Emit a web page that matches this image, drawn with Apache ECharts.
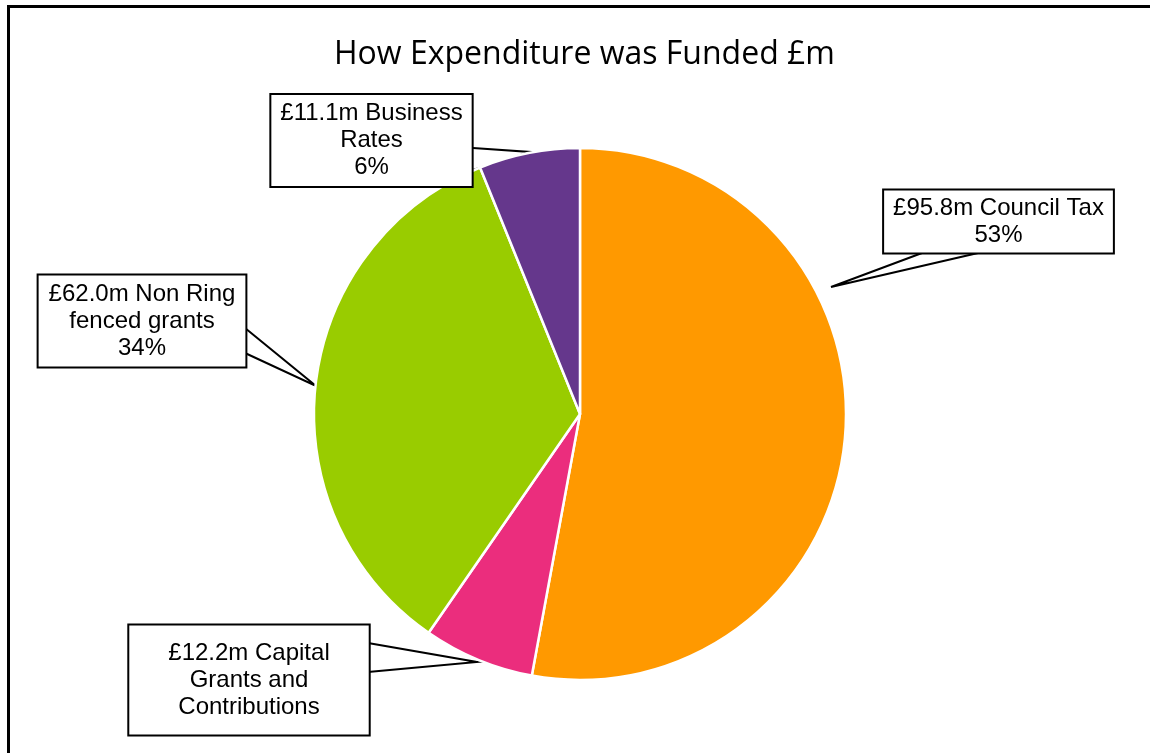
<!DOCTYPE html>
<html>
<head>
<meta charset="utf-8">
<script src="https://cdn.jsdelivr.net/npm/echarts@6/dist/echarts.min.js"></script>
<style>
html,body{margin:0;padding:0;background:#fff;}
#chart{width:1150px;height:753px;}
</style>
</head>
<body>
<div id="chart"></div>
<script>
// ---- data ----
const categories = ['Council Tax', 'Capital Grants and Contributions', 'Non Ring fenced grants', 'Business Rates'];
const values = [95.8, 12.2, 62.0, 11.1];
// how each category name is broken over lines in its callout
const labelNameLines = [
  ['Council Tax'],
  ['Capital', 'Grants and', 'Contributions'],
  ['Non Ring', 'fenced grants'],
  ['Business', 'Rates']
];
const showPercent = [true, false, true, true];
const titleText = 'How Expenditure was Funded £m';

// ---- layout / style (not data) ----
const colors = ['#FF9900', '#EB2D7D', '#99CC00', '#65378C'];
const pieCenter = [580, 414];
const pieRadius = 266;
const callouts = [
  { x: 998.5, y: 221.5, pad: [4, 9, 4, 9],  line: [[922, 253], [831, 287], [978, 253]] },
  { x: 249,   y: 680,   pad: [14, 39, 14, 39], line: [[368, 643], [477, 662], [368, 672]] },
  { x: 142,   y: 321,   pad: [5, 10, 5, 10], line: [[245, 328], [316, 386], [245, 353]] },
  { x: 371.5, y: 140.5, pad: [5, 9, 5, 9],  line: [[473, 148], [530, 152], [473, 170]] }
];

const seriesData = categories.map(function (name, i) {
  return {
    name: name,
    value: values[i],
    itemStyle: { color: colors[i] },
    label: { padding: callouts[i].pad }
  };
});

const chart = echarts.init(document.getElementById('chart'), null, { renderer: 'canvas' });
chart.setOption({
  animation: false,
  backgroundColor: '#ffffff',
  title: {
    text: titleText,
    left: 329,
    top: 34,
    textStyle: { fontFamily: 'Open Sans', fontSize: 32, fontWeight: 'normal', color: '#000' }
  },
  graphic: [{
    type: 'rect',
    shape: { x: 8.5, y: 6.5, width: 1300, height: 900 },
    style: { fill: 'none', stroke: '#000', lineWidth: 3 },
    silent: true,
    z: 100
  }],
  series: [{
    type: 'pie',
    center: pieCenter,
    radius: pieRadius,
    startAngle: 90,
    clockwise: true,
    data: seriesData,
    itemStyle: { borderColor: '#ffffff', borderWidth: 2.5 },
    emphasis: { disabled: true },
    label: {
      show: true,
      position: 'outside',
      formatter: function (p) {
        const i = p.dataIndex;
        let s = '£' + values[i].toFixed(1) + 'm ' + labelNameLines[i].join('\n');
        if (showPercent[i]) s += '\n' + Math.round(p.percent) + '%';
        return s;
      },
      fontFamily: 'Liberation Sans, Arial',
      fontSize: 24,
      lineHeight: 27,
      color: '#000',
      align: 'center',
      backgroundColor: '#ffffff',
      borderColor: '#000',
      borderWidth: 2
    },
    labelLine: {
      show: true,
      lineStyle: { color: '#000', width: 2 }
    },
    labelLayout: function (p) {
      const c = callouts[p.dataIndex];
      return {
        x: c.x,
        y: c.y,
        align: 'center',
        verticalAlign: 'middle',
        labelLinePoints: c.line
      };
    }
  }]
});
</script>
</body>
</html>
